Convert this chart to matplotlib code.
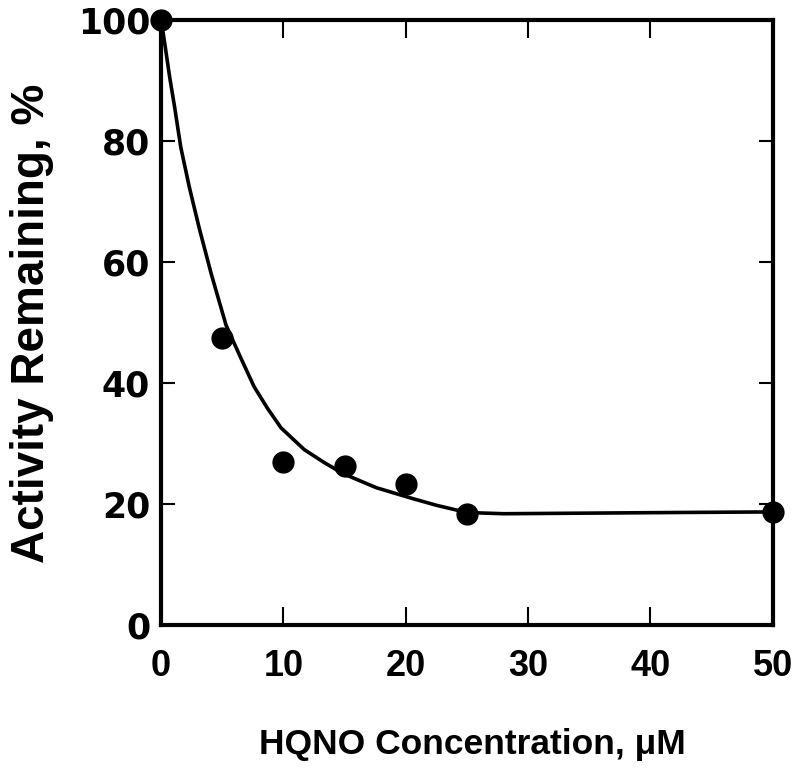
import matplotlib.pyplot as plt

# measured activity at each HQNO concentration (uM)
conc = [0, 5, 10, 15, 20, 25, 50]
activity = [100, 47.5, 27.0, 26.3, 23.3, 18.3, 18.7]

# hand-drawn decay curve through the data
curve_x = [0, 0.3, 0.7, 1.1, 1.6, 2.3, 3.1, 4.1, 5.3, 6.5, 7.6, 8.7, 9.8, 11.7,
           13.3, 14.9, 17.6, 20.4, 22.5, 25, 28, 35, 42, 50]
curve_y = [100, 96.0, 90.5, 85.6, 79.0, 72.4, 65.7, 58.0, 49.6, 44.2, 39.4, 35.8, 32.6, 29.0,
           26.9, 25.0, 22.7, 21.0, 19.8, 18.6, 18.4, 18.5, 18.6, 18.7]

xticks = [0, 10, 20, 30, 40, 50]
yticks = [0, 20, 40, 60, 80, 100]


def main():
    fig = plt.figure(figsize=(7.94, 7.75), dpi=100)
    ax = fig.add_axes([0.203, 0.1935, 0.770, 0.7806])

    ax.plot(curve_x, curve_y, color='black', lw=2.6, solid_joinstyle='round',
            solid_capstyle='round', clip_on=False)
    ax.plot(conc, activity, 'o', color='black', markersize=15, clip_on=False, zorder=5)

    ax.set_xlim(0, 50)
    ax.set_ylim(0, 100)

    for side in ['left', 'right', 'top', 'bottom']:
        ax.spines[side].set_linewidth(3)

    ax.set_xticks(xticks)
    ax.set_yticks(yticks)
    ax.set_xticklabels([str(v) for v in xticks],
                       family='Liberation Sans', fontweight='bold', fontsize=26)
    ax.set_yticklabels([str(v) for v in yticks],
                       family='DejaVu Sans', fontweight='bold', fontsize=25)
    ax.tick_params(axis='x', direction='in', length=13, width=1.5,
                   top=True, pad=17)
    ax.tick_params(axis='y', direction='in', length=10, width=1.5,
                   right=True, pad=8)

    fig.text(0.595, 0.039, 'HQNO Concentration, \u03bcM',
             family='Liberation Sans', fontweight='bold', fontsize=25.5,
             ha='center', va='center')
    fig.text(0.040, 0.583, 'Activity Remaining, %',
             family='Liberation Sans', fontweight='bold', fontsize=33,
             ha='center', va='center', rotation=90)

    fig.savefig('out.png', dpi=100)


if __name__ == '__main__':
    main()
